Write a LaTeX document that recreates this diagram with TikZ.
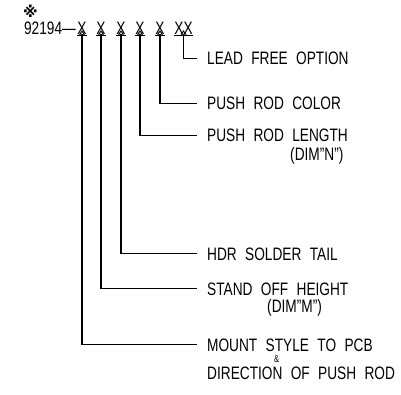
\documentclass[tikz,border=0pt]{standalone}
\usepackage{fontspec}
\setmainfont[FakeStretch=0.76, WordSpace=2.2]{Liberation Sans}
\newfontfamily\marksym{DejaVu Sans}
\usepackage{tikz}
\usetikzlibrary{arrows.meta, positioning}

\tikzset{
  code/.style={inner sep=0pt, font=\fontsize{18}{20}\selectfont},
  lbl/.style={inner sep=0pt, anchor=base west, font=\fontsize{18}{20}\selectfont},
  leader/.style={line width=1.3pt, {Triangle[open, length=4.5pt, width=6pt, line width=0.9pt]}-},
  uline/.style={line width=1.3pt}
}

\begin{document}
\begin{tikzpicture}[x=1pt, y=-1pt]
\useasboundingbox (0,0) rectangle (401,395);

% part number
\node[inner sep=0pt, font=\marksym\bfseries\fontsize{15}{15}\selectfont] (mark) at (30.5,11) {※};
\node[code, anchor=base east] (pn) at (76,35) {92194—};
\node[code, anchor=base] (x1) at (82,35) {X};
\node[code, anchor=base] (x2) at (101,35) {X};
\node[code, anchor=base] (x3) at (121,35) {X};
\node[code, anchor=base] (x4) at (140,35) {X};
\node[code, anchor=base] (x5) at (160,35) {X};
\node[code, anchor=base] (x6) at (183.5,35) {XX};

\draw[uline] (x1.south west) -- (x1.south east);
\draw[uline] (x2.south west) -- (x2.south east);
\draw[uline] (x3.south west) -- (x3.south east);
\draw[uline] (x4.south west) -- (x4.south east);
\draw[uline] (x5.south west) -- (x5.south east);
\draw[uline] (x6.south west) -- (x6.south east);

% labels
\node[lbl] (lead) at (207,65) {LEAD FREE OPTION};
\node[lbl] (color) at (207,110) {PUSH ROD COLOR};
\node[lbl] (length) at (207,142) {PUSH ROD LENGTH};
\node[lbl] (dimn) at (290,161) {(DIM"N")};
\node[lbl] (hdr) at (207,260) {HDR SOLDER TAIL};
\node[lbl] (stand) at (207,295) {STAND OFF HEIGHT};
\node[lbl] (dimm) at (267,312) {(DIM"M")};
\node[lbl] (mount) at (207,351) {MOUNT STYLE TO PCB};
\node[lbl, font=\fontsize{10}{10}\selectfont] (amp) at (274,362.5) {\&};
\node[lbl] (dirn) at (207,379) {DIRECTION OF PUSH ROD};

% leaders
\draw[leader] ([yshift=5pt]x6.south) |- ([xshift=-10pt]lead.west);
\draw[leader] ([yshift=5pt]x5.south) |- ([xshift=-10pt]color.west);
\draw[leader] ([yshift=5pt]x4.south) |- ([xshift=-10pt]length.west);
\draw[leader] ([yshift=5pt]x3.south) |- ([xshift=-10pt]hdr.west);
\draw[leader] ([yshift=5pt]x2.south) |- ([xshift=-10pt]stand.west);
\draw[leader] ([yshift=5pt]x1.south) |- ([xshift=-10pt]mount.west);

\end{tikzpicture}
\end{document}
